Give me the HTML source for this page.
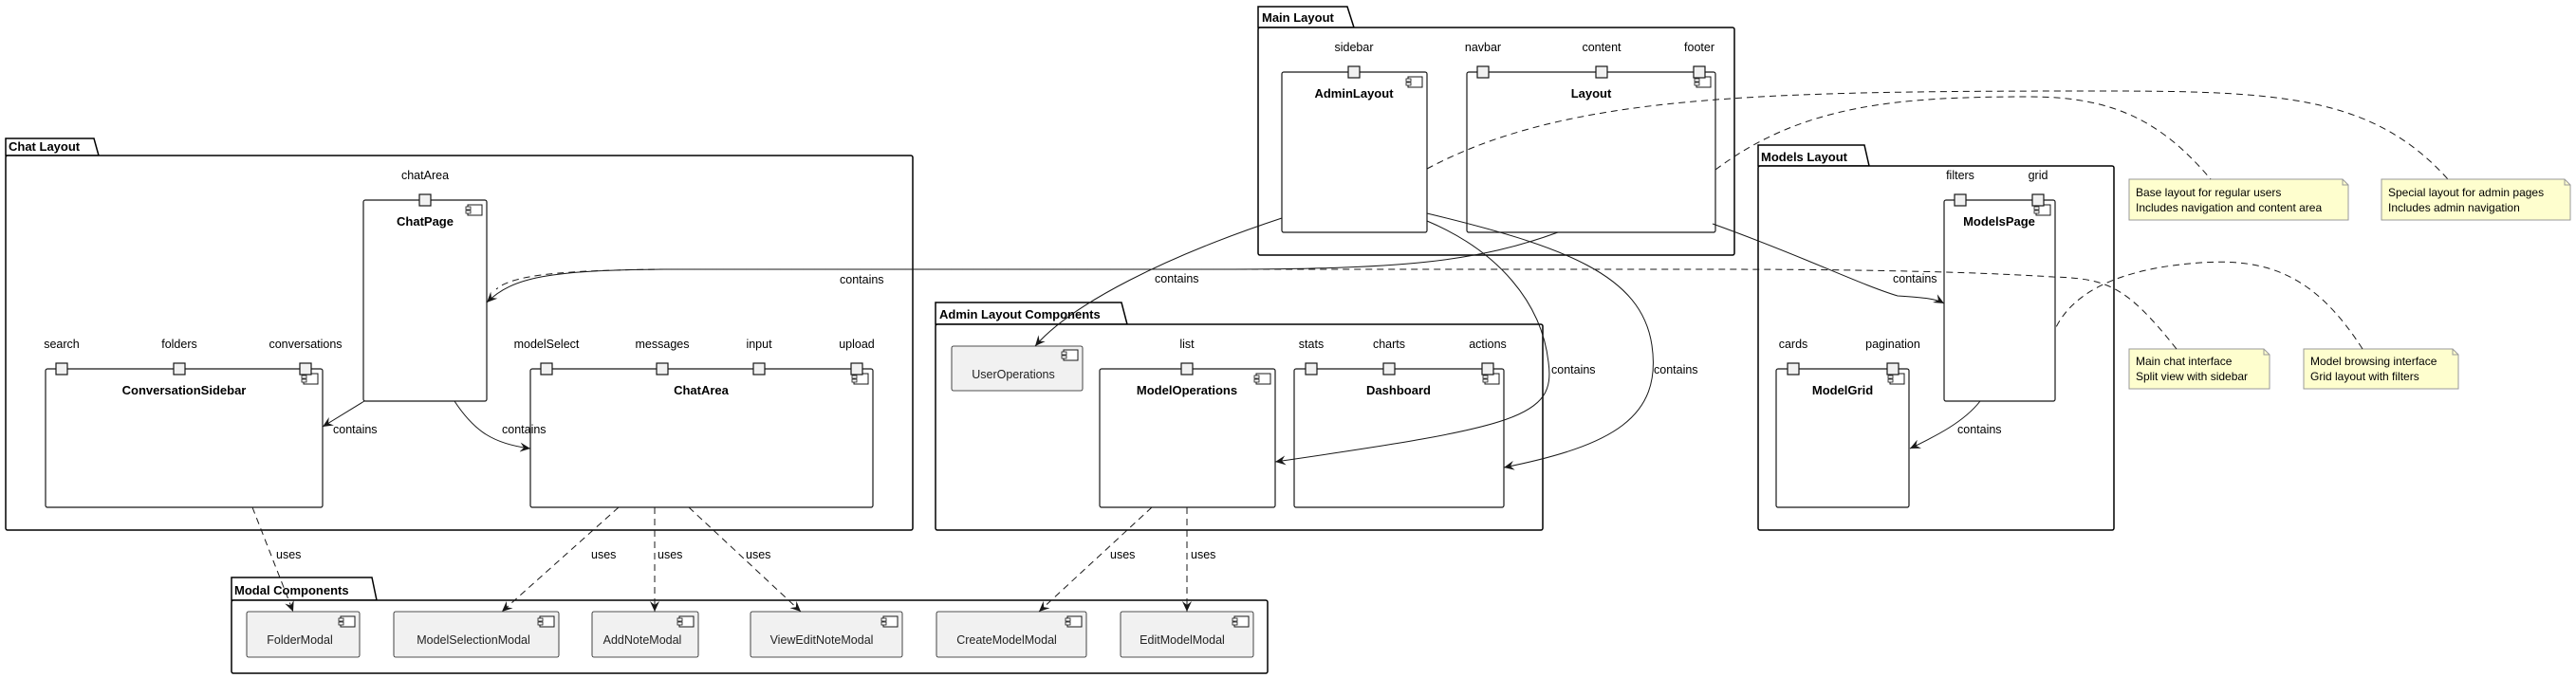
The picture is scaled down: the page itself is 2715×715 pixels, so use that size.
<!DOCTYPE html>
<html><head><meta charset="utf-8"><style>
html,body{margin:0;padding:0;background:#fff;}
svg{display:block;}
text{font-family:"Liberation Sans",sans-serif;fill:#000;}
.lbl{font-size:12.5px;}
.ttl{font-size:13px;font-weight:bold;}
.pkg{font-size:13px;font-weight:bold;}
.note{font-size:12px;}
.box{fill:#fff;stroke:#181818;stroke-width:1.2;}
.gbox{fill:#f1f1f1;stroke:#181818;stroke-width:0.8;}
.pk{fill:#fff;stroke:#000;stroke-width:1.5;}
.port{fill:#f1f1f1;stroke:#181818;stroke-width:1.2;}
.ln{fill:none;stroke:#181818;stroke-width:1;}
.dl{fill:none;stroke:#181818;stroke-width:1;stroke-dasharray:7,5;}
.nt{fill:#fefece;stroke:#999;stroke-width:1;}
</style></head><body>
<svg width="2715" height="715" viewBox="0 0 2715 715" xmlns="http://www.w3.org/2000/svg">
<defs>
<marker id="ar" viewBox="0 0 12 10" refX="11" refY="5" markerWidth="12" markerHeight="10" markerUnits="userSpaceOnUse" orient="auto">
<path d="M0,0 L11,5 L0,10 L4,5 Z" fill="#181818"/>
</marker>
<g id="ic"><rect x="0" y="0" width="15" height="11" fill="#fff" stroke="#181818" stroke-width="1"/><rect x="-2" y="2" width="5" height="3" fill="#fff" stroke="#181818" stroke-width="0.8"/><rect x="-2" y="6" width="5" height="3" fill="#fff" stroke="#181818" stroke-width="0.8"/></g>
</defs>

<path class="pk" d="M6,164 L6,146 L99,146 L104,164 Z"/>
<rect class="pk" x="6" y="164" width="956" height="395" rx="2"/>
<text class="pkg" x="9" y="159">Chat Layout</text>

<path class="pk" d="M1326,29 L1326,7 L1420,7 L1427,29 Z"/>
<rect class="pk" x="1326" y="29" width="502" height="240" rx="2"/>
<text class="pkg" x="1330" y="23">Main Layout</text>

<path class="pk" d="M986,342 L986,319 L1182,319 L1188,342 Z"/>
<rect class="pk" x="986" y="342" width="640" height="217" rx="2"/>
<text class="pkg" x="990" y="336">Admin Layout Components</text>

<path class="pk" d="M1853,175 L1853,153 L1965,153 L1970,175 Z"/>
<rect class="pk" x="1853" y="175" width="375" height="384" rx="2"/>
<text class="pkg" x="1856" y="170">Models Layout</text>

<path class="pk" d="M244,633 L244,609 L392,609 L397,633 Z"/>
<rect class="pk" x="244" y="633" width="1092" height="77" rx="2"/>
<text class="pkg" x="247" y="627">Modal Components</text>

<rect class="box" x="383" y="211" width="130" height="212" rx="2"/>
<use href="#ic" x="493" y="216"/>
<text class="ttl" x="448" y="238" text-anchor="middle">ChatPage</text>
<rect class="port" x="442" y="205" width="12" height="12"/>
<text class="lbl" x="448" y="189" text-anchor="middle">chatArea</text>

<rect class="box" x="48" y="389" width="292" height="146" rx="2"/>
<use href="#ic" x="320" y="394"/>
<text class="ttl" x="194" y="416" text-anchor="middle">ConversationSidebar</text>
<rect class="port" x="59" y="383" width="12" height="12"/>
<rect class="port" x="183" y="383" width="12" height="12"/>
<rect class="port" x="316" y="383" width="12" height="12"/>
<text class="lbl" x="65" y="367" text-anchor="middle">search</text>
<text class="lbl" x="189" y="367" text-anchor="middle">folders</text>
<text class="lbl" x="322" y="367" text-anchor="middle">conversations</text>

<rect class="box" x="559" y="389" width="361" height="146" rx="2"/>
<use href="#ic" x="900" y="394"/>
<text class="ttl" x="739" y="416" text-anchor="middle">ChatArea</text>
<rect class="port" x="570" y="383" width="12" height="12"/>
<rect class="port" x="692" y="383" width="12" height="12"/>
<rect class="port" x="794" y="383" width="12" height="12"/>
<rect class="port" x="897" y="383" width="12" height="12"/>
<text class="lbl" x="576" y="367" text-anchor="middle">modelSelect</text>
<text class="lbl" x="698" y="367" text-anchor="middle">messages</text>
<text class="lbl" x="800" y="367" text-anchor="middle">input</text>
<text class="lbl" x="903" y="367" text-anchor="middle">upload</text>

<rect class="box" x="1351" y="76" width="153" height="169" rx="2"/>
<use href="#ic" x="1484" y="81"/>
<text class="ttl" x="1427" y="103" text-anchor="middle">AdminLayout</text>
<rect class="port" x="1421" y="70" width="12" height="12"/>
<text class="lbl" x="1427" y="54" text-anchor="middle">sidebar</text>

<rect class="box" x="1546" y="76" width="262" height="169" rx="2"/>
<use href="#ic" x="1788" y="81"/>
<text class="ttl" x="1677" y="103" text-anchor="middle">Layout</text>
<rect class="port" x="1557" y="70" width="12" height="12"/>
<rect class="port" x="1682" y="70" width="12" height="12"/>
<rect class="port" x="1785" y="70" width="12" height="12"/>
<text class="lbl" x="1563" y="54" text-anchor="middle">navbar</text>
<text class="lbl" x="1688" y="54" text-anchor="middle">content</text>
<text class="lbl" x="1791" y="54" text-anchor="middle">footer</text>

<rect class="gbox" x="1003" y="365" width="138" height="47" rx="2"/>
<use href="#ic" x="1121" y="369"/>
<text class="lbl" x="1068" y="399" text-anchor="middle" style="fill:#222">UserOperations</text>

<rect class="box" x="1159" y="389" width="185" height="146" rx="2"/>
<use href="#ic" x="1324" y="394"/>
<text class="ttl" x="1251" y="416" text-anchor="middle">ModelOperations</text>
<rect class="port" x="1245" y="383" width="12" height="12"/>
<text class="lbl" x="1251" y="367" text-anchor="middle">list</text>

<rect class="box" x="1364" y="389" width="221" height="146" rx="2"/>
<use href="#ic" x="1565" y="394"/>
<text class="ttl" x="1474" y="416" text-anchor="middle">Dashboard</text>
<rect class="port" x="1376" y="383" width="12" height="12"/>
<rect class="port" x="1458" y="383" width="12" height="12"/>
<rect class="port" x="1562" y="383" width="12" height="12"/>
<text class="lbl" x="1382" y="367" text-anchor="middle">stats</text>
<text class="lbl" x="1464" y="367" text-anchor="middle">charts</text>
<text class="lbl" x="1568" y="367" text-anchor="middle">actions</text>

<rect class="box" x="2049" y="211" width="117" height="212" rx="2"/>
<use href="#ic" x="2146" y="216"/>
<text class="ttl" x="2107" y="238" text-anchor="middle">ModelsPage</text>
<rect class="port" x="2060" y="205" width="12" height="12"/>
<rect class="port" x="2142" y="205" width="12" height="12"/>
<text class="lbl" x="2066" y="189" text-anchor="middle">filters</text>
<text class="lbl" x="2148" y="189" text-anchor="middle">grid</text>

<rect class="box" x="1872" y="389" width="140" height="146" rx="2"/>
<use href="#ic" x="1992" y="394"/>
<text class="ttl" x="1942" y="416" text-anchor="middle">ModelGrid</text>
<rect class="port" x="1884" y="383" width="12" height="12"/>
<rect class="port" x="1989" y="383" width="12" height="12"/>
<text class="lbl" x="1890" y="367" text-anchor="middle">cards</text>
<text class="lbl" x="1995" y="367" text-anchor="middle">pagination</text>

<g>
<rect class="gbox" x="260" y="645" width="119" height="48" rx="2"/><use href="#ic" x="359" y="650"/>
<text class="lbl" x="316" y="679" text-anchor="middle" style="fill:#222">FolderModal</text>
<rect class="gbox" x="415" y="645" width="174" height="48" rx="2"/><use href="#ic" x="569" y="650"/>
<text class="lbl" x="499" y="679" text-anchor="middle" style="fill:#222">ModelSelectionModal</text>
<rect class="gbox" x="624" y="645" width="112" height="48" rx="2"/><use href="#ic" x="716" y="650"/>
<text class="lbl" x="677" y="679" text-anchor="middle" style="fill:#222">AddNoteModal</text>
<rect class="gbox" x="791" y="645" width="160" height="48" rx="2"/><use href="#ic" x="931" y="650"/>
<text class="lbl" x="866" y="679" text-anchor="middle" style="fill:#222">ViewEditNoteModal</text>
<rect class="gbox" x="987" y="645" width="158" height="48" rx="2"/><use href="#ic" x="1125" y="650"/>
<text class="lbl" x="1061" y="679" text-anchor="middle" style="fill:#222">CreateModelModal</text>
<rect class="gbox" x="1181" y="645" width="140" height="48" rx="2"/><use href="#ic" x="1301" y="650"/>
<text class="lbl" x="1246" y="679" text-anchor="middle" style="fill:#222">EditModelModal</text>
</g>

<path class="nt" d="M2244,189 L2469,189 L2475,195 L2475,232 L2244,232 Z"/><path class="ln" style="stroke:#999" d="M2469,189 L2469,195 L2475,195"/>
<text class="note" x="2251" y="207">Base layout for regular users</text>
<text class="note" x="2251" y="223">Includes navigation and content area</text>
<path class="nt" d="M2510,189 L2703,189 L2709,195 L2709,232 L2510,232 Z"/><path class="ln" style="stroke:#999" d="M2703,189 L2703,195 L2709,195"/>
<text class="note" x="2517" y="207">Special layout for admin pages</text>
<text class="note" x="2517" y="223">Includes admin navigation</text>
<path class="nt" d="M2244,368 L2386,368 L2392,374 L2392,410 L2244,410 Z"/><path class="ln" style="stroke:#999" d="M2386,368 L2386,374 L2392,374"/>
<text class="note" x="2251" y="385">Main chat interface</text>
<text class="note" x="2251" y="401">Split view with sidebar</text>
<path class="nt" d="M2428,368 L2585,368 L2591,374 L2591,410 L2428,410 Z"/><path class="ln" style="stroke:#999" d="M2585,368 L2585,374 L2591,374"/>
<text class="note" x="2435" y="385">Model browsing interface</text>
<text class="note" x="2435" y="401">Grid layout with filters</text>

<path class="ln" marker-end="url(#ar)" d="M384,423 L340,450"/>
<text class="lbl" x="351" y="457">contains</text>
<path class="ln" marker-end="url(#ar)" d="M479,423 C500,455 520,468 559,473"/>
<text class="lbl" x="529" y="457">contains</text>
<path class="ln" marker-end="url(#ar)" d="M1642,245 C1560,275 1480,284 1300,284 L700,284 C580,285 540,292 513,319"/>
<text class="lbl" x="885" y="299">contains</text>
<path class="ln" marker-end="url(#ar)" d="M1351,230 C1230,270 1130,320 1091,365"/>
<text class="lbl" x="1217" y="298">contains</text>
<path class="ln" marker-end="url(#ar)" d="M1504,233 C1580,265 1625,320 1632,382 C1640,440 1600,450 1344,487"/>
<text class="lbl" x="1635" y="394">contains</text>
<path class="ln" marker-end="url(#ar)" d="M1504,225 C1650,260 1730,290 1741,364 C1752,440 1700,470 1585,493"/>
<text class="lbl" x="1743" y="394">contains</text>
<path class="ln" marker-end="url(#ar)" d="M1805,236 C1900,270 1960,300 2000,312 C2030,314 2040,315 2049,320"/>
<text class="lbl" x="1995" y="298">contains</text>
<path class="ln" marker-end="url(#ar)" d="M2087,423 C2070,445 2040,460 2013,473"/>
<text class="lbl" x="2063" y="457">contains</text>

<path class="dl" marker-end="url(#ar)" d="M266,535 L309,645"/>
<text class="lbl" x="291" y="589">uses</text>
<path class="dl" marker-end="url(#ar)" d="M652,535 L529,645"/>
<text class="lbl" x="623" y="589">uses</text>
<path class="dl" marker-end="url(#ar)" d="M690,535 L690,645"/>
<text class="lbl" x="693" y="589">uses</text>
<path class="dl" marker-end="url(#ar)" d="M726,535 L844,645"/>
<text class="lbl" x="786" y="589">uses</text>
<path class="dl" marker-end="url(#ar)" d="M1214,535 L1095,645"/>
<text class="lbl" x="1170" y="589">uses</text>
<path class="dl" marker-end="url(#ar)" d="M1251,535 L1251,645"/>
<text class="lbl" x="1255" y="589">uses</text>

<path class="dl" d="M1504,178 C1650,100 1850,96 2213,96 C2400,96 2500,100 2580,189"/>
<path class="dl" d="M1808,179 C1900,110 2000,102 2140,102 C2230,102 2280,130 2330,189"/>
<path class="dl" d="M2294,368 C2240,300 2220,294 2164,292 C2100,288 2000,284 1800,284 L700,284 C590,285 540,290 523,305"/>
<path class="dl" d="M2490,368 C2440,290 2390,272 2319,277 C2250,282 2190,300 2167,345"/>
</svg>
</body></html>
